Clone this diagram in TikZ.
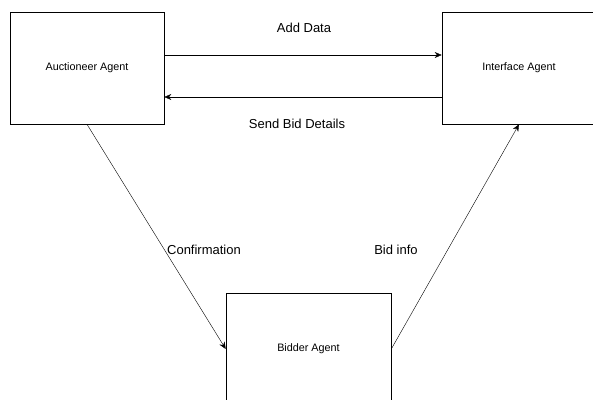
\documentclass[tikz,border=0pt]{standalone}
\usepackage{tikz}
\usetikzlibrary{positioning,arrows.meta}
\usepackage{fontspec}
\setmainfont{Liberation Sans}

\begin{document}
\begin{tikzpicture}[x=1pt,y=-1pt,
					agent/.style={rectangle, draw, semithick, minimum width=154pt, minimum height=112pt, font=\fontsize{10.8}{13}\selectfont},
					lbl/.style={font=\fontsize{13}{15}\selectfont}]
					\useasboundingbox (0,0) rectangle (593,399);
					\clip (0,0) rectangle (593,399);
					\node[agent] (A) at (87,68) {Auctioneer Agent};
					\node[agent] (I) at (519,68) {Interface Agent};
					\node[agent, minimum width=165pt] (B) at (308.5,349) {Bidder Agent};
					\node[lbl] (add) at (304,28) {Add Data};
					\node[lbl] (send) at (297,124) {Send Bid Details};
					\node[lbl] (conf) at (204,250) {Confirmation};
					\node[lbl] (bid) at (396,250) {Bid info};
					\draw[-{Stealth[length=7pt,width=6pt]}, thin] ([yshift=13pt]A.east) to ([yshift=13pt]I.west);
					\draw[-{Stealth[length=7pt,width=6pt]}, thin] ([yshift=-29pt]I.west) to ([yshift=-29pt]A.east);
					\draw[-{Stealth[length=7pt,width=6pt]}, thin] (A.south) to (B.west);
					\draw[-{Stealth[length=7pt,width=6pt]}, thin] (B.east) to (I.south);
				\end{tikzpicture}
\end{document}
